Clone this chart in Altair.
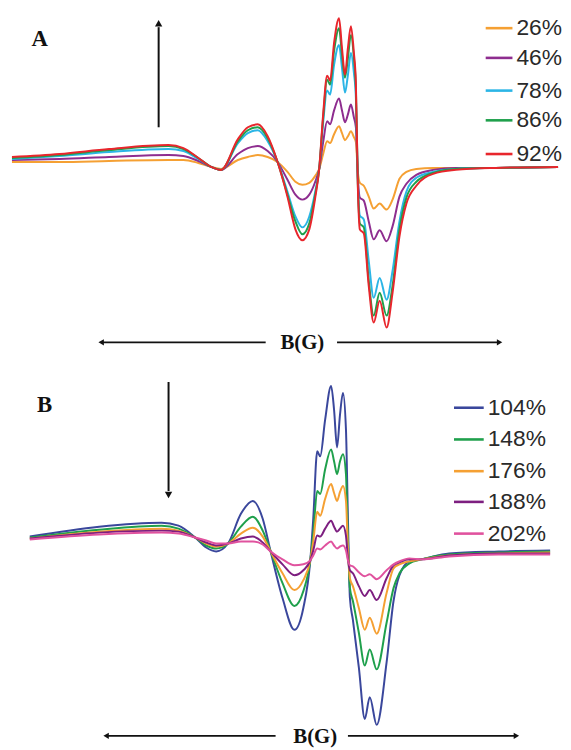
import altair as alt
import pandas as pd

# ---------------- Panel A data (field position, signal amplitude) ----------------
A_FIELD = [12, 60, 110, 170, 185, 200, 213, 223, 240, 250, 260, 270, 280,
           290, 298, 305, 312, 318, 322, 326, 330, 333, 337, 342, 345, 348,
           351, 354, 357, 359, 361, 363, 367, 372, 377, 383, 390, 396, 403,
           410, 420, 437, 460, 500, 563]
A_26 = [6, 6, 7, 8, 8, 5, 1, -1, 8, 11, 13, 11, 6,
        -4, -14, -17, -15, -8, -1, 14, 27, 25, 34, 42, 35, 28,
        32, 37, 31, 26, -4, -15, -18, -29, -41, -36, -42, -32, -11,
        -4, -1, 0, 0, 0, 1]
A_46 = [8, 9, 11, 13, 12, 7, 1, -2, 14, 20, 22, 17, 6,
        -12, -27, -32, -27, -14, -1, 26, 47, 44, 58, 70, 58, 46,
        54, 64, 51, 41, -9, -30, -33, -54, -72, -63, -74, -59, -29,
        -16, -7, -2, 0, 0, 1]
A_78 = [9, 12, 16, 19, 17, 9, 1, -2, 25, 35, 38, 27, 6,
        -24, -49, -60, -49, -24, -1, 46, 78, 74, 104, 124, 101, 76,
        94, 116, 96, 71, -14, -48, -52, -94, -131, -111, -133, -104, -54,
        -24, -10, -4, -1, 0, 1]
A_86 = [10, 13, 18, 22, 19, 10, 1, -2, 27, 38, 41, 30, 6,
        -27, -54, -67, -56, -27, -1, 51, 89, 84, 118, 141, 114, 91,
        111, 134, 111, 81, -16, -56, -60, -114, -149, -126, -149, -119, -62,
        -30, -14, -5, -1, 0, 1]
A_92 = [11, 14, 19, 23, 20, 10, 1, -2, 29, 41, 44, 32, 6,
        -29, -62, -73, -62, -30, -1, 54, 93, 88, 126, 151, 121, 94,
        121, 143, 116, 86, -19, -62, -66, -119, -156, -134, -161, -126, -69,
        -36, -18, -6, -2, 0, 1]
A_LABELS = ["26%", "46%", "78%", "86%", "92%"]
A_COLORS = ["#F5A033", "#8E2D8F", "#2BB5E6", "#1FA04C", "#E8262C"]

# ---------------- Panel B data ----------------
B_FIELD = [30, 100, 163, 180, 197, 208, 218, 230, 243, 255, 265, 273,
           285, 297, 306, 313, 316, 320, 323, 328, 334, 337, 340, 343, 346,
           349, 351, 353, 356, 362, 368, 373, 380, 390, 397, 403, 413, 425,
           453, 503, 555]
B_104 = [15, 25, 29, 26, 14, 4, 0, 8, 38, 51, 33, 0,
         -47, -79, -57, -9, 33, 101, 96, 133, 167, 143, 105, 138, 160,
         123, 33, -47, -69, -117, -169, -147, -175, -112, -50, -24, -10, -8,
         -2, 0, 1]
B_148 = [14, 22, 26, 23, 14, 6, 3, 8, 25, 35, 21, 0,
         -32, -55, -40, -9, 18, 61, 58, 83, 103, 91, 78, 91, 98,
         78, 13, -37, -50, -82, -115, -99, -119, -72, -37, -22, -12, -8,
         -3, -1, 0]
B_176 = [13, 20, 23, 21, 14, 8, 5, 8, 18, 24, 15, 0,
         -22, -39, -29, -9, 10, 40, 36, 53, 68, 59, 51, 60, 66,
         51, 3, -27, -35, -57, -79, -67, -83, -42, -17, -13, -10, -8,
         -4, -2, -1]
B_188 = [13, 19, 21, 20, 14, 9, 6, 8, 13, 15, 9, 0,
         -13, -24, -19, -9, 1, 16, 15, 23, 31, 25, 20, 23, 26,
         16, -7, -19, -22, -35, -45, -39, -49, -27, -14, -11, -8, -8,
         -4, -2, -2]
B_202 = [12, 17, 19, 18, 14, 11, 8, 8, 10, 10, 7, 0,
         -8, -14, -13, -9, -4, 3, 2, 6, 10, 6, 3, 5, 6,
         1, -9, -14, -15, -21, -25, -23, -28, -19, -13, -10, -7, -8,
         -5, -3, -3]
B_LABELS = ["104%", "148%", "176%", "188%", "202%"]
B_COLORS = ["#3A479C", "#1FA04C", "#F5A033", "#7D1F80", "#E0529E"]

# ---------------- annotation anchors (data units) ----------------
A_LEGEND_Y = [141, 111, 78, 48, 14]
B_LEGEND_Y = [145, 113, 81, 50, 18]

W, H = 555, 367
XDOM = [8, 563]


def panel(field, series, labels, colors, ydom, leg_x, leg_y, leg_tx,
          letter, letter_pos, varrow, head_shape, head_pos, harrow_y, harrow_l,
          harrow_r, bg_pos):
    xs = alt.Scale(domain=XDOM, nice=False, zero=False)
    ys = alt.Scale(domain=ydom, nice=False, zero=False)
    X = lambda f: alt.X(f, scale=xs, axis=None)
    Y = lambda f: alt.Y(f, scale=ys, axis=None)
    layers = []
    for vals, lab, col in zip(series, labels, colors):
        df = pd.DataFrame({"B": field, "signal": vals, "sample": lab})
        layers.append(
            alt.Chart(df).mark_line(color=col, strokeWidth=2, interpolate="monotone")
            .encode(x=X("B:Q"), y=Y("signal:Q"))
        )
    leg = pd.DataFrame({"x0": [leg_x[0]] * 5, "x1": [leg_x[1]] * 5, "xt": [leg_tx] * 5,
                        "y": leg_y, "label": labels, "color": colors})
    layers.append(
        alt.Chart(leg).mark_rule(strokeWidth=2.6)
        .encode(x=X("x0:Q"), x2="x1:Q", y=Y("y:Q"), color=alt.Color("color:N", scale=None))
    )
    layers.append(
        alt.Chart(leg).mark_text(align="left", baseline="middle", font="Liberation Sans",
                                 fontSize=23, color="#2a2a2a")
        .encode(x=X("xt:Q"), y=Y("y:Q"), text="label:N")
    )
    # panel letter
    lt = pd.DataFrame({"x": [letter_pos[0]], "y": [letter_pos[1]], "t": [letter]})
    layers.append(
        alt.Chart(lt).mark_text(align="center", baseline="middle", font="Liberation Serif",
                                fontWeight="bold", fontSize=23, color="#111")
        .encode(x=X("x:Q"), y=Y("y:Q"), text="t:N")
    )
    # vertical arrow
    va = pd.DataFrame({"x": [varrow[0]], "y": [varrow[1]], "y2": [varrow[2]]})
    layers.append(
        alt.Chart(va).mark_rule(color="#111", strokeWidth=2)
        .encode(x=X("x:Q"), y=Y("y:Q"), y2="y2:Q")
    )
    hd = pd.DataFrame({"x": [head_pos[0]], "y": [head_pos[1]]})
    layers.append(
        alt.Chart(hd).mark_point(shape=head_shape, filled=True, size=55, color="#111", opacity=1)
        .encode(x=X("x:Q"), y=Y("y:Q"))
    )
    # horizontal B(G) arrow
    ha = pd.DataFrame({"x": [harrow_l[0], harrow_r[0]], "x2": [harrow_l[1], harrow_r[1]],
                       "y": [harrow_y, harrow_y]})
    layers.append(
        alt.Chart(ha).mark_rule(color="#111", strokeWidth=1.8)
        .encode(x=X("x:Q"), x2="x2:Q", y=Y("y:Q"))
    )
    hl = pd.DataFrame({"x": [harrow_l[0] - 2], "y": [harrow_y]})
    hr = pd.DataFrame({"x": [harrow_r[1] + 2], "y": [harrow_y]})
    for dfh, shp in ((hl, "triangle-left"), (hr, "triangle-right")):
        layers.append(
            alt.Chart(dfh).mark_point(shape=shp, filled=True, size=40, color="#111", opacity=1)
            .encode(x=X("x:Q"), y=Y("y:Q"))
        )
    bg = pd.DataFrame({"x": [bg_pos[0]], "y": [bg_pos[1]], "t": ["B(G)"]})
    layers.append(
        alt.Chart(bg).mark_text(align="center", baseline="middle", font="Liberation Serif",
                                fontWeight="bold", fontSize=21, color="#111")
        .encode(x=X("x:Q"), y=Y("y:Q"), text="t:N")
    )
    return alt.layer(*layers).properties(width=W, height=H)


panel_a = panel(A_FIELD, [A_26, A_46, A_78, A_86, A_92], A_LABELS, A_COLORS,
                [-209, 158], (490, 517), A_LEGEND_Y, 521,
                "A", (40, 130), (160, 41, 142), "triangle-up", (160, 146),
                -176, (104, 268), (340, 502), (305, -177))

panel_b = panel(B_FIELD, [B_104, B_148, B_176, B_188, B_202], B_LABELS, B_COLORS,
                [-189, 178], (458, 488), B_LEGEND_Y, 492,
                "B", (45, 148), (170, 171, 61), "triangle-down", (170, 57),
                -186, (109, 278), (351, 519), (318, -187))

chart = (
    alt.vconcat(panel_a, panel_b, spacing=0)
    .properties(padding=0, background="white")
    .configure_view(strokeWidth=0)
)

chart.save("out.html", embed_options={"renderer": "svg", "actions": False})
